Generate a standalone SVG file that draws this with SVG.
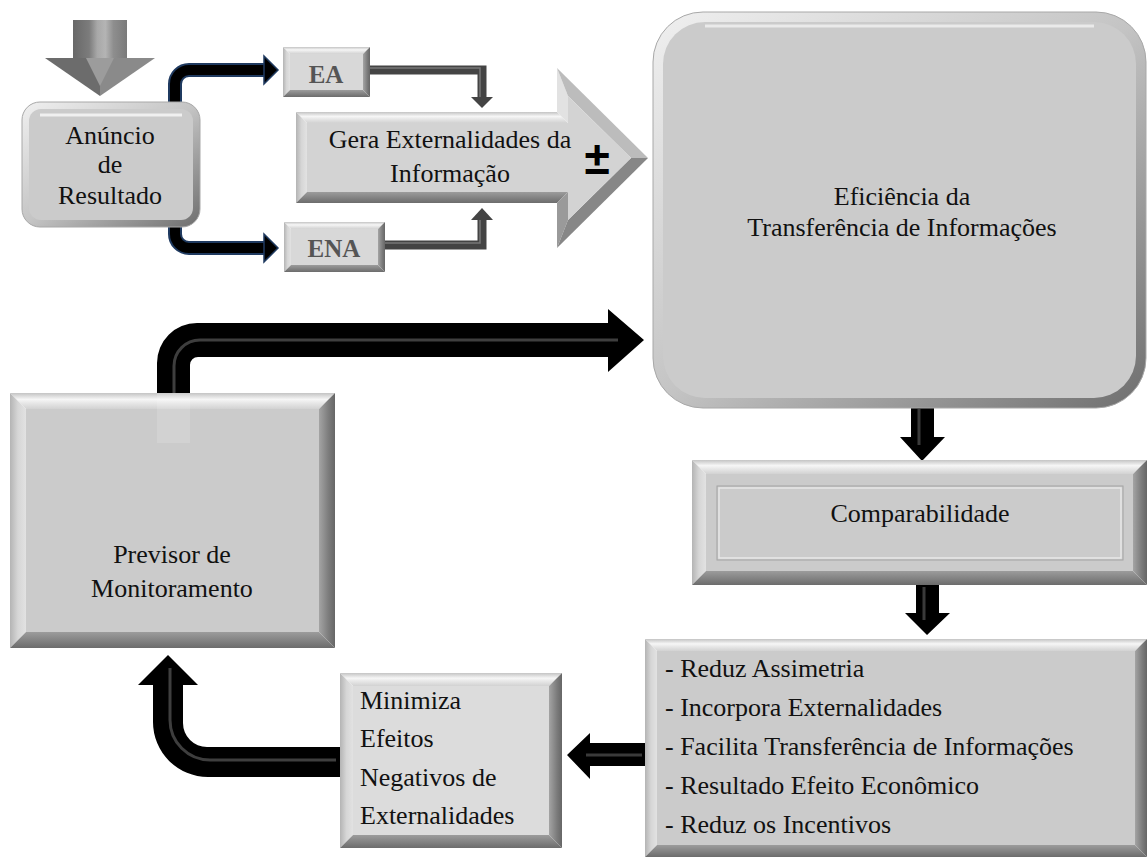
<svg xmlns="http://www.w3.org/2000/svg" width="1148" height="859" viewBox="0 0 1148 859">
<defs>
<linearGradient id="gTop" x1="0" y1="0" x2="0" y2="1"><stop offset="0" stop-color="#c4c4c4"/><stop offset="0.4" stop-color="#f6f6f6"/><stop offset="0.65" stop-color="#e6e6e6"/><stop offset="1" stop-color="#d2d2d2"/></linearGradient>
<linearGradient id="gLeft" x1="0" y1="0" x2="1" y2="0"><stop offset="0" stop-color="#b4b4b4"/><stop offset="0.5" stop-color="#d6d6d6"/><stop offset="1" stop-color="#e2e2e2"/></linearGradient>
<linearGradient id="gRight" x1="0" y1="0" x2="1" y2="0"><stop offset="0" stop-color="#a4a4a4"/><stop offset="0.6" stop-color="#7c7c7c"/><stop offset="1" stop-color="#666666"/></linearGradient>
<linearGradient id="gBottom" x1="0" y1="0" x2="0" y2="1"><stop offset="0" stop-color="#9c9c9c"/><stop offset="1" stop-color="#6c6c6c"/></linearGradient>
<linearGradient id="rimG" x1="0" y1="0" x2="1" y2="1"><stop offset="0" stop-color="#f0f0f0"/><stop offset="0.5" stop-color="#c4c4c4"/><stop offset="1" stop-color="#6e6e6e"/></linearGradient>
<linearGradient id="shaftG" x1="0" y1="0" x2="1" y2="0"><stop offset="0" stop-color="#686868"/><stop offset="0.3" stop-color="#7c7c7c"/><stop offset="0.45" stop-color="#a8a8a8"/><stop offset="0.6" stop-color="#b4b4b4"/><stop offset="0.75" stop-color="#8e8e8e"/><stop offset="1" stop-color="#7a7a7a"/></linearGradient>
<style>
.t{font-family:"Liberation Serif","Times New Roman",serif;font-size:26px;fill:#111;}
.c{text-anchor:middle;}
.lbl{font-family:"Liberation Serif","Times New Roman",serif;font-size:25px;font-weight:bold;fill:#555;text-anchor:middle;}
.bt{fill:url(#gTop);}
.bl{fill:url(#gLeft);}
.br{fill:url(#gRight);}
.bb{fill:url(#gBottom);}
.face{fill:#cbcbcb;}
.face2{fill:#dcdcdc;}
.blk{fill:#000;}
.hl{fill:none;stroke:#3e3e3e;stroke-width:3;}
</style>
</defs>
<rect width="1148" height="859" fill="#ffffff"/>

<g id="connectors">
  <g id="input-arrow">
    <rect x="73" y="20" width="54" height="40" fill="url(#shaftG)"/>
    <polygon points="45,58 100,58 100,96" fill="#6c6c6c"/>
    <polygon points="100,58 155,58 100,96" fill="#8a8a8a"/>
    <polygon points="86,58 114,58 100,86" fill="#9c9c9c"/>
  </g>
  <path d="M175,102 V84 A14,14 0 0 1 189,70 H266" fill="none" stroke="#1f3a60" stroke-width="14"/>
  <path d="M175,102 V84 A14,14 0 0 1 189,70 H266" fill="none" stroke="#000" stroke-width="10"/>
  <polygon points="264,56 278,70 264,84" fill="#000" stroke="#1f3a60" stroke-width="1.5"/>
  <path d="M175,227 V234 A14,14 0 0 0 189,248 H266" fill="none" stroke="#1f3a60" stroke-width="14"/>
  <path d="M175,227 V234 A14,14 0 0 0 189,248 H266" fill="none" stroke="#000" stroke-width="10"/>
  <polygon points="264,234 278,248 264,262" fill="#000" stroke="#1f3a60" stroke-width="1.5"/>
  <path d="M370,70 H482 V98" fill="none" stroke="#444" stroke-width="9"/>
  <path d="M370,68 H480 V98" fill="none" stroke="#777" stroke-width="1.5"/>
  <polygon points="471,97 493,97 482,108" fill="#444"/>
  <path d="M385,245 H482 V220" fill="none" stroke="#444" stroke-width="9"/>
  <path d="M385,243 H480 V220" fill="none" stroke="#777" stroke-width="1.5"/>
  <polygon points="471,220 493,220 482,208" fill="#444"/>
  <path class="blk" d="M157,393 V363 A40,40 0 0 1 197,323 H608 V309 L644,340 L608,372 V357 H198 A8,8 0 0 0 190,365 V393 Z"/>
  <path class="hl" d="M174,393 V366 A26,26 0 0 1 200,340 H618"/>
  <polygon class="blk" points="911,407 934,407 934,437 945,437 922,461 900,437 911,437"/>
  <line x1="919" y1="409" x2="919" y2="445" stroke="#3a3a3a" stroke-width="3"/>
  <polygon class="blk" points="916,585 939,585 939,613 950,613 927,635 905,613 916,613"/>
  <line x1="924" y1="587" x2="924" y2="620" stroke="#3a3a3a" stroke-width="3"/>
  <polygon class="blk" points="646,743 590,743 590,733 567,755 590,779 590,766 646,766"/>
  <line x1="586" y1="755" x2="642" y2="755" stroke="#3a3a3a" stroke-width="3"/>
  <path class="blk" d="M340,747 H207 A24,24 0 0 1 183,723 V685 H198 L168,655 L138,685 H153 V722 A55,55 0 0 0 208,777 H340 Z"/>
  <path class="hl" d="M336,760 H210 A40,40 0 0 1 170,720 V668"/>
</g>

<g id="node-anuncio">
  <rect x="22" y="102" width="178" height="125" rx="18" fill="url(#rimG)" stroke="#a8a8a8" stroke-width="1"/>
  <rect x="29" y="109" width="164" height="111" rx="12" class="face"/>
  <path d="M40,115 H182" stroke="#ffffff" stroke-opacity="0.7" stroke-width="3" fill="none"/>
  <text class="t c" x="110" y="144">Anúncio</text>
  <text class="t c" x="110" y="173">de</text>
  <text class="t c" x="110" y="204">Resultado</text>
</g>

<g id="node-ea">
  <polygon class="bt" points="283,47 370,47 363,54 290,54"/>
  <polygon class="bl" points="283,47 290,54 290,90 283,97"/>
  <polygon class="br" points="370,47 370,97 363,90 363,54"/>
  <polygon class="bb" points="283,97 290,90 363,90 370,97"/>
  <rect x="290" y="54" width="73" height="36" fill="#d8d8d8"/>
  <text class="lbl" x="326" y="83">EA</text>
</g>

<g id="node-ena">
  <polygon class="bt" points="284,222 385,222 378,229 291,229"/>
  <polygon class="bl" points="284,222 291,229 291,265 284,272"/>
  <polygon class="br" points="385,222 385,272 378,265 378,229"/>
  <polygon class="bb" points="284,272 291,265 378,265 385,272"/>
  <rect x="291" y="229" width="87" height="36" fill="#d8d8d8"/>
  <text class="lbl" x="334" y="257">ENA</text>
</g>

<g id="node-gera">
  <polygon points="296,112 557,112 568,123 307,123" fill="url(#gTop)"/>
  <polygon points="557,112 557,68 568,96 568,123" fill="#e2e2e2"/>
  <polygon points="557,68 648,158 631,158 568,96" fill="#bcbcbc"/>
  <polygon points="296,112 307,123 307,192 296,203" fill="url(#gLeft)"/>
  <polygon points="296,203 307,192 568,192 557,203" fill="url(#gBottom)"/>
  <polygon points="557,203 568,192 568,220 557,248" fill="#9a9a9a"/>
  <polygon points="557,248 568,220 631,158 648,158" fill="#878787"/>
  <polygon points="307,123 568,123 568,96 631,158 568,220 568,192 307,192" fill="#d3d3d3"/>
  <text class="t c" x="450" y="148">Gera Externalidades da</text>
  <text class="t c" x="450" y="182">Informação</text>
  <text x="597" y="174" font-family="'Liberation Sans',Arial,sans-serif" font-size="46" font-weight="bold" fill="#000" text-anchor="middle">±</text>
</g>

<g id="node-eficiencia">
  <rect x="653" y="12" width="493" height="396" rx="50" fill="url(#rimG)" stroke="#a8a8a8" stroke-width="1"/>
  <rect x="663" y="22" width="473" height="376" rx="42" class="face"/>
  <path d="M705,26 H1094" stroke="#ffffff" stroke-opacity="0.6" stroke-width="3" fill="none"/>
  <text class="t c" x="902" y="205">Eficiência da</text>
  <text class="t c" x="902" y="236">Transferência de Informações</text>
</g>

<g id="node-comparabilidade">
  <polygon class="bt" points="692,460 1147,460 1133,474 706,474"/>
  <polygon class="bl" points="692,460 706,474 706,571 692,585"/>
  <polygon class="br" points="1147,460 1147,585 1133,571 1133,474"/>
  <polygon class="bb" points="692,585 706,571 1133,571 1147,585"/>
  <rect x="706" y="474" width="427" height="97" class="face"/>
  <rect x="717" y="486" width="406" height="74" fill="#cbcbcb" stroke="#a4a4a4" stroke-width="1"/>
  <rect x="719" y="488" width="402" height="70" fill="none" stroke="#e8e8e8" stroke-width="1.5"/>
  <text class="t c" x="920" y="522">Comparabilidade</text>
</g>

<g id="node-reduz">
  <polygon class="bt" points="645,639 1147,639 1135,651 657,651"/>
  <polygon class="bl" points="645,639 657,651 657,845 645,857"/>
  <polygon class="br" points="1147,639 1147,857 1135,845 1135,651"/>
  <polygon class="bb" points="645,857 657,845 1135,845 1147,857"/>
  <rect x="657" y="651" width="478" height="194" class="face"/>
  <text class="t" x="665" y="677">- Reduz Assimetria</text>
  <text class="t" x="665" y="716">- Incorpora Externalidades</text>
  <text class="t" x="665" y="755">- Facilita Transferência de Informações</text>
  <text class="t" x="665" y="794">- Resultado Efeito Econômico</text>
  <text class="t" x="665" y="833">- Reduz os Incentivos</text>
</g>

<g id="node-minimiza">
  <polygon class="bt" points="340,673 562,673 549,686 353,686"/>
  <polygon class="bl" points="340,673 353,686 353,835 340,848"/>
  <polygon class="br" points="562,673 562,848 549,835 549,686"/>
  <polygon class="bb" points="340,848 353,835 549,835 562,848"/>
  <rect x="353" y="686" width="196" height="149" class="face2"/>
  <text class="t" x="360" y="709">Minimiza</text>
  <text class="t" x="360" y="747">Efeitos</text>
  <text class="t" x="360" y="786">Negativos de</text>
  <text class="t" x="360" y="824">Externalidades</text>
</g>

<g id="node-previsor">
  <polygon class="bt" points="10,393 335,393 319,409 26,409"/>
  <polygon class="bl" points="10,393 26,409 26,632 10,648"/>
  <polygon class="br" points="335,393 335,648 319,632 319,409"/>
  <polygon class="bb" points="10,648 26,632 319,632 335,648"/>
  <rect x="26" y="409" width="293" height="223" class="face"/>
  <rect x="157" y="393" width="33" height="50" fill="#ffffff" fill-opacity="0.15"/>
  <text class="t c" x="172" y="563">Previsor de</text>
  <text class="t c" x="172" y="597">Monitoramento</text>
</g>
</svg>
